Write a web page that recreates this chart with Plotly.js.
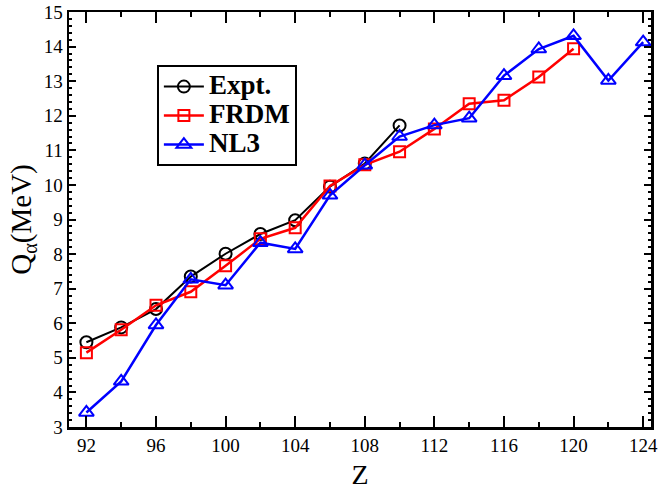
<!DOCTYPE html>
<html>
<head>
<meta charset="utf-8">
<script src="https://cdn.plot.ly/plotly-3.0.1.min.js"></script>
<style>html,body{margin:0;padding:0;background:#fff;}#chart{width:659px;height:490px;}</style>
</head>
<body>
<div id="chart"></div>
<script>
const zExpt = [92, 94, 96, 98, 100, 102, 104, 106, 108, 110];
const qExpt = [5.45, 5.88, 6.41, 7.35, 8.01, 8.58, 8.98, 9.95, 10.62, 11.72];

const zFRDM = [92, 94, 96, 98, 100, 102, 104, 106, 108, 110, 112, 114, 116, 118, 120];
const qFRDM = [5.15, 5.81, 6.52, 6.91, 7.66, 8.44, 8.76, 9.97, 10.58, 10.96, 11.62, 12.35, 12.45, 13.12, 13.94];

const zNL3 = [92, 94, 96, 98, 100, 102, 104, 106, 108, 110, 112, 114, 116, 118, 120, 122, 124];
const qNL3 = [3.42, 4.32, 5.95, 7.27, 7.1, 8.33, 8.15, 9.7, 10.57, 11.4, 11.73, 11.93, 13.16, 13.93, 14.31, 13.02, 14.13];

const seriesNames = ['Expt.', 'FRDM', 'NL3'];
const xTicks = [92, 96, 100, 104, 108, 112, 116, 120, 124];
const yTicks = [3, 4, 5, 6, 7, 8, 9, 10, 11, 12, 13, 14, 15];

const serif = 'Liberation Serif';
const legendName = s => '<span style="font-size:27px">' + s + '</span>';

const traces = [
  {x: zExpt, y: qExpt, name: legendName(seriesNames[0]), mode: 'lines+markers',
   line: {color: '#000000', width: 2},
   marker: {symbol: 'circle-open', size: 12, color: '#000000', line: {width: 2}}},
  {x: zFRDM, y: qFRDM, name: legendName(seriesNames[1]), mode: 'lines+markers',
   line: {color: '#ff0000', width: 2.5},
   marker: {symbol: 'square-open', size: 11, color: '#ff0000', line: {width: 2}}},
  {x: zNL3, y: qNL3, name: legendName(seriesNames[2]), mode: 'lines+markers',
   line: {color: '#0000ff', width: 2.5},
   marker: {symbol: 'triangle-up-open', size: 13, color: '#0000ff', line: {width: 2}}}
];

const layout = {
  width: 659, height: 490,
  margin: {l: 69, r: 8, t: 12, b: 63},
  paper_bgcolor: '#ffffff', plot_bgcolor: '#ffffff',
  font: {family: serif, color: '#000000'},
  showlegend: true,
  legend: {
    x: 0.151, y: 0.872, xanchor: 'left', yanchor: 'top',
    bgcolor: '#ffffff', bordercolor: '#000000', borderwidth: 2,
    font: {family: serif, size: 20, color: '#000000', weight: 'bold'},
    tracegroupgap: 0, itemwidth: 40
  },
  xaxis: {
    range: [91, 124.45],
    tickmode: 'array', tickvals: xTicks, ticktext: xTicks.map(String),
    ticks: 'inside', ticklen: 11, tickwidth: 2, tickcolor: '#000',
    minor: {dtick: 2, tick0: 92, ticks: 'inside', ticklen: 5, tickwidth: 2, tickcolor: '#000'},
    showline: true, linewidth: 2.5, linecolor: '#000', mirror: 'allticks',
    showgrid: false, zeroline: false,
    tickfont: {family: serif, size: 19, color: '#000'},
    title: {text: 'Z', font: {family: serif, size: 28, color: '#000'}, standoff: 14}
  },
  yaxis: {
    range: [3, 15],
    tickmode: 'array', tickvals: yTicks, ticktext: yTicks.map(String),
    ticks: 'inside', ticklen: 7, tickwidth: 2, tickcolor: '#000',
    minor: {dtick: 0.2, ticks: 'inside', ticklen: 3, tickwidth: 2, tickcolor: '#000'},
    showline: true, linewidth: 2.5, linecolor: '#000', mirror: 'allticks',
    showgrid: false, zeroline: false,
    tickfont: {family: serif, size: 19, color: '#000'},
    title: {text: 'Q<sub>α</sub>(MeV)', font: {family: serif, size: 29, color: '#000'}, standoff: 4}
  }
};

Plotly.newPlot('chart', traces, layout, {displayModeBar: false, staticPlot: true});
</script>
</body>
</html>
